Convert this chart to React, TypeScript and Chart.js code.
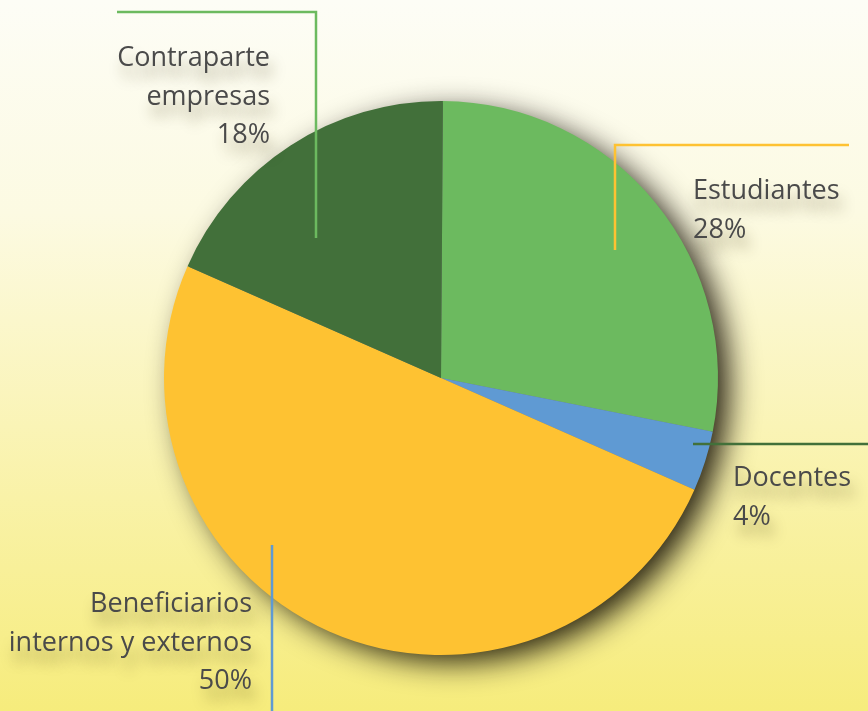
import React, { useEffect, useRef } from "react";
import { Chart, registerables } from "chart.js";

Chart.register(...registerables);

// ---- data ----
const categories = [
  "Estudiantes",
  "Docentes",
  "Beneficiarios internos y externos",
  "Contraparte empresas",
];
const labelLines = [
  ["Estudiantes"],
  ["Docentes"],
  ["Beneficiarios", "internos y externos"],
  ["Contraparte", "empresas"],
];
const percentLabels = ["28%", "4%", "50%", "18%"];
const values = [28, 3.5, 50, 18.5];
const sliceColors = ["#6CBA5F", "#5F9AD3", "#FEC232", "#42703A"];
const calloutColors = ["#FEC232", "#42703A", "#5F9AD3", "#6CBA5F"];

// ---- layout of callouts (positions only, not data) ----
const calloutLayout = [
  { x: 693, y: 199, align: "left", line: [[849, 145], [615, 145], [615, 250]] },
  { x: 733, y: 486, align: "left", line: [[868, 444], [693, 444]] },
  { x: 252, y: 612, align: "right", line: [[272, 545], [272, 711]] },
  { x: 270, y: 66, align: "right", line: [[117, 12], [316, 12], [316, 238]] },
];
const FONT = '27px "Open Sans", Lato, sans-serif';
const LINE_H = 38.5;

const backgroundPlugin = {
  id: "bg",
  beforeDraw(chart: any) {
    const { ctx, width, height } = chart;
    const g = ctx.createLinearGradient(0, 0, 0, height);
    g.addColorStop(0, "#FDFDF6");
    g.addColorStop(0.3, "#FCFAE2");
    g.addColorStop(0.6, "#FAF4B6");
    g.addColorStop(1, "#F6EC7C");
    ctx.save();
    ctx.fillStyle = g;
    ctx.fillRect(0, 0, width, height);
    ctx.restore();
  },
};

const shadowPlugin = {
  id: "pieShadow",
  beforeDatasetsDraw(chart: any) {
    const arc = chart.getDatasetMeta(0).data[0];
    if (!arc) return;
    const { ctx } = chart;
    ctx.save();
    ctx.shadowColor = "rgba(15,10,0,0.9)";
    ctx.shadowBlur = 30;
    ctx.shadowOffsetX = 13;
    ctx.shadowOffsetY = 9;
    ctx.fillStyle = "#777";
    ctx.beginPath();
    ctx.arc(arc.x, arc.y, arc.outerRadius - 2, 0, Math.PI * 2);
    ctx.fill();
    ctx.restore();
  },
};

const calloutPlugin = {
  id: "callouts",
  afterDatasetsDraw(chart: any) {
    const { ctx } = chart;
    ctx.save();
    calloutLayout.forEach((c, i) => {
      ctx.strokeStyle = calloutColors[i];
      ctx.lineWidth = 2.5;
      ctx.beginPath();
      c.line.forEach(([px, py], k) => (k === 0 ? ctx.moveTo(px, py) : ctx.lineTo(px, py)));
      ctx.stroke();
    });
    ctx.font = FONT;
    ctx.textBaseline = "alphabetic";
    calloutLayout.forEach((c, i) => {
      const lines = [...labelLines[i], percentLabels[i]];
      ctx.textAlign = c.align;
      lines.forEach((t, k) => {
        const y = c.y + k * LINE_H;
        ctx.save();
        ctx.shadowColor = "rgba(60,50,0,0.4)";
        ctx.shadowBlur = 14;
        ctx.shadowOffsetX = 4;
        ctx.shadowOffsetY = 12;
        ctx.fillStyle = "#4A4A4A";
        ctx.fillText(t, c.x, y);
        ctx.restore();
      });
    });
    ctx.restore();
  },
};

export default function App() {
  const ref = useRef<HTMLCanvasElement | null>(null);
  useEffect(() => {
    if (!ref.current) return;
    const chart = new Chart(ref.current, {
      type: "pie",
      data: {
        labels: categories,
        datasets: [
          {
            data: values,
            backgroundColor: sliceColors,
            borderWidth: 0,
          },
        ],
      },
      options: {
        responsive: false,
        animation: false,
        rotation: 0.4,
        layout: { padding: { left: 164, right: 150, top: 101, bottom: 56 } },
        plugins: {
          legend: { display: false },
          tooltip: { enabled: false },
        },
      },
      plugins: [backgroundPlugin, shadowPlugin, calloutPlugin],
    });
    return () => chart.destroy();
  }, []);
  return (
    <div style={{ position: "fixed", left: 0, top: 0, width: 868, height: 711 }}>
      <canvas ref={ref} width={868} height={711} style={{ display: "block" }} />
    </div>
  );
}
